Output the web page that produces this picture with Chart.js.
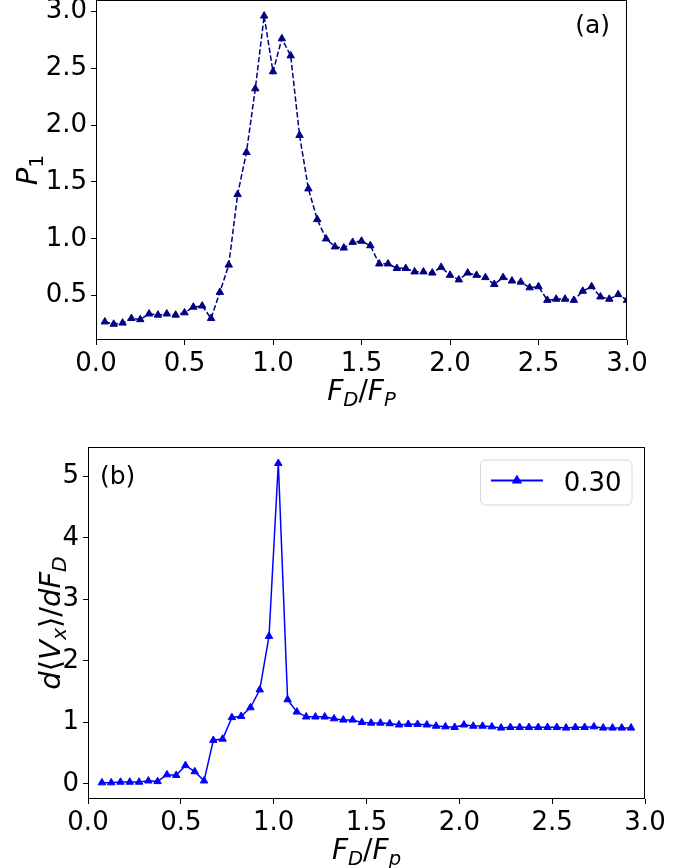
<!DOCTYPE html>
<html>
<head>
<meta charset="utf-8">
<script src="https://cdn.jsdelivr.net/npm/chart.js@4.4.1/dist/chart.umd.min.js"></script>
<style>
  html, body { margin: 0; padding: 0; background: #fff; }
  #wrap { position: relative; width: 693px; height: 868px; }
  .panel { position: absolute; left: 0; }
</style>
</head>
<body>
<div id="wrap">
  <div class="panel" style="top:0"><canvas id="chartA" width="693" height="420"></canvas></div>
  <div class="panel" style="top:420px"><canvas id="chartB" width="693" height="448"></canvas></div>
</div>
<script>
'use strict';

// panel (a): P1 vs drive force
const forceA = [
  0.05, 0.10, 0.15, 0.20, 0.25, 0.30, 0.35, 0.40, 0.45, 0.50,
  0.55, 0.60, 0.65, 0.70, 0.75, 0.80, 0.85, 0.90, 0.95, 1.00,
  1.05, 1.10, 1.15, 1.20, 1.25, 1.30, 1.35, 1.40, 1.45, 1.50,
  1.55, 1.60, 1.65, 1.70, 1.75, 1.80, 1.85, 1.90, 1.95, 2.00,
  2.05, 2.10, 2.15, 2.20, 2.25, 2.30, 2.35, 2.40, 2.45, 2.50,
  2.55, 2.60, 2.65, 2.70, 2.75, 2.80, 2.85, 2.90, 2.95, 3.00
];
const p1Values = [
  0.27, 0.25, 0.26, 0.30, 0.29, 0.34, 0.33, 0.34, 0.33, 0.35,
  0.40, 0.41, 0.30, 0.53, 0.77, 1.39, 1.76, 2.32, 2.96, 2.47,
  2.76, 2.61, 1.91, 1.44, 1.17, 1.00, 0.93, 0.92, 0.97, 0.98,
  0.94, 0.78, 0.78, 0.74, 0.74, 0.71, 0.71, 0.70, 0.75, 0.68,
  0.64, 0.70, 0.68, 0.66, 0.60, 0.66, 0.63, 0.62, 0.57, 0.58,
  0.46, 0.47, 0.47, 0.46, 0.54, 0.58, 0.49, 0.47, 0.51, 0.46
];

// panel (b): differential velocity response
const forceB = [
  0.075, 0.125, 0.175, 0.225, 0.275, 0.325, 0.375, 0.425, 0.475, 0.525,
  0.575, 0.625, 0.675, 0.725, 0.775, 0.825, 0.875, 0.925, 0.975, 1.025,
  1.075, 1.125, 1.175, 1.225, 1.275, 1.325, 1.375, 1.425, 1.475, 1.525,
  1.575, 1.625, 1.675, 1.725, 1.775, 1.825, 1.875, 1.925, 1.975, 2.025,
  2.075, 2.125, 2.175, 2.225, 2.275, 2.325, 2.375, 2.425, 2.475, 2.525,
  2.575, 2.625, 2.675, 2.725, 2.775, 2.825, 2.875, 2.925
];
const dVdF = [
  0.02, 0.02, 0.03, 0.03, 0.03, 0.05, 0.04, 0.15, 0.14, 0.30,
  0.20, 0.05, 0.71, 0.73, 1.08, 1.10, 1.24, 1.53, 2.40, 5.21,
  1.37, 1.17, 1.09, 1.09, 1.09, 1.06, 1.04, 1.04, 1.00, 0.99,
  0.99, 0.98, 0.96, 0.97, 0.97, 0.96, 0.94, 0.93, 0.92, 0.96,
  0.94, 0.94, 0.93, 0.91, 0.92, 0.92, 0.92, 0.92, 0.92, 0.92,
  0.91, 0.92, 0.92, 0.93, 0.91, 0.91, 0.91, 0.91
];
const seriesLabelB = '0.30';

const xTicks = [0, 0.5, 1.0, 1.5, 2.0, 2.5, 3.0];
const xTickLabels = ['0.0', '0.5', '1.0', '1.5', '2.0', '2.5', '3.0'];
const yTicksA = [0.5, 1.0, 1.5, 2.0, 2.5, 3.0];
const yTickLabelsA = ['0.5', '1.0', '1.5', '2.0', '2.5', '3.0'];
const yTicksB = [0, 1, 2, 3, 4, 5];
const yTickLabelsB = ['0', '1', '2', '3', '4', '5'];

const FONT = '"DejaVu Sans", sans-serif';
const TICK_SIZE = 26;

// mathtext-ish label: parts are [text, style], style i/r, prefix s = subscript
const setFont = (ctx, style, size) => {
  const sub = style[0] === 's';
  const italic = style.slice(-1) === 'i';
  const s = sub ? size * 0.7 : size;
  ctx.font = (italic ? 'italic ' : '') + s + 'px ' + FONT;
  return sub ? size * 0.22 : 0;
};

const mathWidth = (ctx, parts, size) => {
  let w = 0;
  for (const [t, st] of parts) {
    setFont(ctx, st, size);
    w += ctx.measureText(t).width;
  }
  return w;
};

const drawMath = (ctx, parts, size, cx, baseline, vertical) => {
  ctx.save();
  ctx.fillStyle = '#000';
  ctx.textBaseline = 'alphabetic';
  ctx.textAlign = 'left';
  const w = mathWidth(ctx, parts, size);
  if (vertical) {
    ctx.translate(baseline, cx);
    ctx.rotate(-Math.PI / 2);
  } else {
    ctx.translate(cx, baseline);
  }
  let x = -w / 2;
  for (const [t, st] of parts) {
    const dy = setFont(ctx, st, size);
    ctx.fillText(t, x, dy);
    x += ctx.measureText(t).width;
  }
  ctx.restore();
};

const fixedTicks = (values) => (axis) => {
  axis.ticks = values.map(v => ({ value: v }));
};

const makeAxis = (min, max, values, labels, size, isX) => ({
  type: 'linear',
  min: min,
  max: max,
  afterBuildTicks: fixedTicks(values),
  afterFit: (axis) => {
    // fixed axis band, and no extra room reserved for end labels
    if (isX) axis.height = size; else axis.width = size;
    axis.paddingTop = 0;
    axis.paddingBottom = 0;
    axis.paddingLeft = 0;
    axis.paddingRight = 0;
  },
  border: { display: false },
  grid: {
    drawOnChartArea: false,
    drawTicks: true,
    tickLength: 5,
    color: '#000',
    lineWidth: 1
  },
  ticks: {
    color: '#000',
    padding: 4,
    maxRotation: 0,
    autoSkip: false,
    font: { family: FONT, size: TICK_SIZE },
    callback: (value) => labels[values.indexOf(value)]
  }
});

// axes box and annotation text for one panel
const panelDecor = (cfg) => ({
  id: 'panelDecor',
  afterDatasetsDraw(chart) {
    const ctx = chart.ctx;
    const a = chart.chartArea;
    ctx.save();
    ctx.strokeStyle = '#000';
    ctx.lineWidth = 1;
    ctx.strokeRect(a.left + 0.5, a.top + 0.5, a.right - a.left - 1, a.bottom - a.top - 1);
    ctx.restore();

    drawMath(ctx, cfg.xTitle, 28, (a.left + a.right) / 2, a.bottom + 60, false);
    drawMath(ctx, cfg.yTitle, 29, (a.top + a.bottom) / 2, cfg.yTitleX, true);

    ctx.save();
    ctx.fillStyle = '#000';
    ctx.font = '25px ' + FONT;
    ctx.textBaseline = 'alphabetic';
    if (cfg.tagRight) {
      ctx.textAlign = 'right';
      ctx.fillText(cfg.tag, a.right - 17, a.top + 33);
    } else {
      ctx.textAlign = 'left';
      ctx.fillText(cfg.tag, a.left + 12, a.top + 37);
    }
    ctx.restore();

    if (cfg.legend) drawLegend(chart, cfg.legend);
  }
});

const drawLegend = (chart, item) => {
  const ctx = chart.ctx;
  const a = chart.chartArea;
  const fs = 26;
  ctx.save();
  ctx.font = fs + 'px ' + FONT;
  const tw = ctx.measureText(item.label).width;
  const pad = 0.4 * fs;
  const handle = 2 * fs;
  const gap = 0.8 * fs;
  const boxW = pad + handle + gap + tw + pad;
  const boxH = 45;
  const right = a.right - 0.5 * fs;
  const top = a.top + 0.5 * fs;
  const left = right - boxW;

  ctx.beginPath();
  ctx.roundRect(left, top, boxW, boxH, 5);
  ctx.fillStyle = 'rgba(255,255,255,0.8)';
  ctx.fill();
  ctx.strokeStyle = '#d6d6d6';
  ctx.lineWidth = 1;
  ctx.stroke();

  const cy = top + boxH / 2 - 2;
  ctx.strokeStyle = item.color;
  ctx.lineWidth = 2;
  ctx.beginPath();
  ctx.moveTo(left + pad, cy);
  ctx.lineTo(left + pad + handle, cy);
  ctx.stroke();
  Chart.helpers.drawPoint(ctx, {
    pointStyle: 'triangle', radius: 4, borderWidth: 1, rotation: 0
  }, left + pad + handle / 2, cy);
  ctx.fillStyle = item.color;
  ctx.fill();

  ctx.fillStyle = '#000';
  ctx.textBaseline = 'alphabetic';
  ctx.textAlign = 'left';
  ctx.fillText(item.label, left + pad + handle + gap, cy + 10);
  ctx.restore();
};

const baseOptions = (scales, padding) => ({
  responsive: false,
  animation: false,
  layout: { padding: padding, autoPadding: false },
  plugins: { legend: { display: false }, tooltip: { enabled: false } },
  scales: scales
});

new Chart(document.getElementById('chartA'), {
  type: 'line',
  data: {
    datasets: [{
      data: forceA.map((x, i) => ({ x: x, y: p1Values[i] })),
      borderColor: '#000080',
      backgroundColor: '#000080',
      borderWidth: 1.5,
      borderDash: [5.5, 2.4],
      pointStyle: 'triangle',
      pointRadius: 4.3,
      pointBorderWidth: 1,
      tension: 0
    }]
  },
  options: baseOptions({
    x: makeAxis(0, 3, xTicks, xTickLabels, 80, true),
    y: makeAxis(0.11, 3.10, yTicksA, yTickLabelsA, 96, false)
  }, { left: 0, right: 66, top: 0, bottom: 0 }),
  plugins: [panelDecor({
    xTitle: [['F', 'i'], ['D', 'si'], ['/', 'r'], ['F', 'i'], ['P', 'si']],
    yTitle: [['P', 'i'], ['1', 'sr']],
    yTitleX: 37,
    tag: '(a)',
    tagRight: true
  })]
});

new Chart(document.getElementById('chartB'), {
  type: 'line',
  data: {
    datasets: [{
      label: seriesLabelB,
      data: forceB.map((x, i) => ({ x: x, y: dVdF[i] })),
      borderColor: '#0000ff',
      backgroundColor: '#0000ff',
      borderWidth: 1.5,
      pointStyle: 'triangle',
      pointRadius: 4.3,
      pointBorderWidth: 1,
      tension: 0
    }]
  },
  options: baseOptions({
    x: makeAxis(0, 3, xTicks, xTickLabels, 69, true),
    y: makeAxis(-0.245, 5.475, yTicksB, yTickLabelsB, 88, false)
  }, { left: 0, right: 48, top: 27, bottom: 0 }),
  plugins: [panelDecor({
    xTitle: [['F', 'i'], ['D', 'si'], ['/', 'r'], ['F', 'i'], ['p', 'si']],
    yTitle: [['d', 'i'], ['\u27E8', 'r'], ['V', 'i'], ['x', 'si'], ['\u27E9', 'r'],
             ['/', 'r'], ['d', 'i'], ['F', 'i'], ['D', 'si']],
    yTitleX: 60,
    tag: '(b)',
    tagRight: false,
    legend: { label: seriesLabelB, color: '#0000ff' }
  })]
});
</script>
</body>
</html>
